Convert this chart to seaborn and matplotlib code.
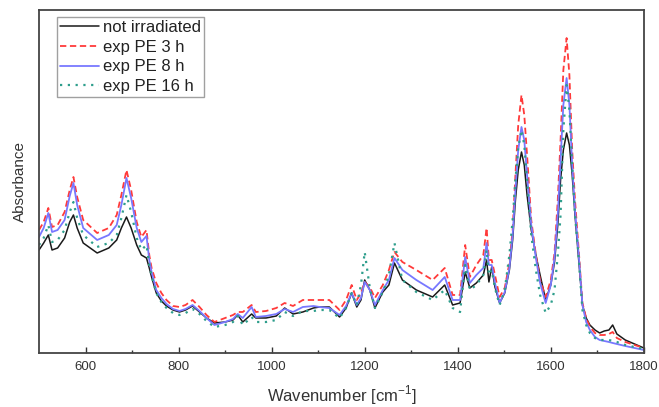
import numpy as np
import pandas as pd
import matplotlib
matplotlib.use("Agg")
import matplotlib.pyplot as plt
import seaborn as sns

wavenumber = [500, 510, 520, 528, 540, 555, 566, 574, 582, 595, 625, 650, 667, 677, 688, 698, 710, 720, 731, 737,
              742, 752, 763, 774, 788, 802, 815, 830, 845, 860, 877, 900, 917, 927, 938, 957, 966, 988, 1010, 1028,
              1046, 1067, 1090, 1103, 1124, 1146, 1160, 1172, 1183, 1192, 1200, 1211, 1222, 1239, 1252, 1264, 1281, 1311, 1346, 1372,
              1389, 1405, 1416, 1426, 1440, 1455, 1462, 1467, 1473, 1480, 1490, 1501, 1511, 1518, 1524, 1530, 1537, 1543, 1549, 1558,
              1568, 1577, 1589, 1600, 1608, 1615, 1621, 1627, 1634, 1640, 1646, 1652, 1660, 1668, 1676, 1684, 1695, 1705, 1715, 1725,
              1733, 1742, 1760, 1780, 1800]

not_irradiated = [103, 110, 118, 103, 105, 115, 131, 138, 125, 110, 100, 105, 113, 125, 136, 125, 108, 98, 95, 85,
                  76, 60, 52, 47, 43, 41, 43, 47, 41, 35, 30, 31, 33, 38, 31, 39, 35, 35, 37, 45,
                  39, 41, 45, 46, 46, 36, 45, 60, 46, 53, 73, 63, 45, 61, 68, 90, 73, 63, 56, 68,
                  48, 50, 81, 65, 70, 78, 93, 71, 86, 66, 50, 60, 83, 113, 153, 183, 201, 188, 158, 123,
                  98, 78, 53, 68, 91, 128, 173, 203, 220, 208, 178, 138, 93, 48, 35, 28, 23, 20, 22, 23,
                  28, 19, 13, 9, 5]

exp_pe_3h = [123, 131, 145, 126, 128, 141, 163, 176, 156, 133, 120, 125, 138, 158, 183, 163, 131, 116, 123, 98,
             85, 70, 60, 53, 47, 46, 48, 53, 46, 38, 31, 35, 38, 41, 41, 48, 41, 42, 45, 50,
             47, 53, 53, 53, 53, 43, 53, 68, 53, 60, 71, 66, 55, 68, 83, 101, 91, 83, 73, 85,
             58, 58, 108, 76, 88, 98, 125, 93, 93, 78, 56, 65, 90, 123, 178, 228, 258, 238, 198, 133,
             98, 73, 56, 73, 100, 153, 213, 283, 315, 278, 203, 153, 103, 50, 35, 26, 20, 18, 18, 19,
             21, 15, 11, 8, 5]

exp_pe_8h = [116, 125, 140, 121, 123, 133, 157, 170, 148, 125, 113, 118, 128, 148, 175, 155, 125, 111, 117, 93,
             81, 63, 55, 49, 44, 42, 44, 48, 42, 35, 28, 31, 34, 39, 35, 46, 36, 37, 39, 44,
             41, 46, 47, 46, 45, 38, 47, 60, 48, 55, 71, 63, 48, 63, 73, 95, 83, 73, 63, 76,
             53, 53, 96, 70, 78, 85, 110, 88, 88, 70, 50, 61, 85, 118, 163, 203, 226, 213, 178, 128,
             95, 70, 50, 68, 95, 138, 193, 248, 275, 248, 188, 143, 98, 48, 31, 23, 16, 13, 12, 11,
             10, 9, 7, 5, 3]

exp_pe_16h = [108, 115, 128, 111, 113, 123, 141, 151, 135, 118, 106, 110, 118, 135, 158, 141, 115, 103, 108, 88,
              77, 60, 51, 45, 40, 38, 40, 44, 39, 32, 26, 28, 31, 37, 28, 36, 31, 31, 33, 41,
              37, 42, 42, 43, 43, 35, 45, 60, 48, 68, 101, 65, 45, 61, 78, 110, 73, 61, 53, 63,
              45, 41, 88, 63, 68, 78, 103, 78, 83, 65, 48, 63, 98, 133, 173, 205, 223, 208, 173, 118,
              83, 58, 40, 48, 63, 98, 138, 223, 268, 243, 188, 138, 95, 43, 28, 20, 15, 13, 13, 13,
              12, 11, 8, 6, 4]

series_labels = ["not irradiated", "exp PE 3 h", "exp PE 8 h", "exp PE 16 h"]
x_ticks = [600, 800, 1000, 1200, 1400, 1600, 1800]

sns.set_theme(style="white")
plt.rcParams["font.family"] = ["Liberation Sans", "DejaVu Sans"]

fig = plt.figure(figsize=(6.59, 4.07), dpi=100)
ax = fig.add_axes([0.0592, 0.1327, 0.9178, 0.8427])

styles = [
    dict(color="#1a1a1a", linestyle="-", linewidth=1.1),
    dict(color="#ff3a3a", linestyle=(0, (3.5, 2)), linewidth=1.3),
    dict(color="#7878ff", linestyle="-", linewidth=1.3),
    dict(color="#2e9e8c", linestyle=(0, (1, 2.5)), linewidth=1.6),
]
for vals, lab, st in zip([not_irradiated, exp_pe_3h, exp_pe_8h, exp_pe_16h], series_labels, styles):
    df = pd.DataFrame({"wn": wavenumber, "abs": vals})
    sns.lineplot(data=df, x="wn", y="abs", ax=ax, label=lab, **st)

ax.set_xlim(500, 1800)
ax.set_ylim(0, 343)
ax.set_xticks(x_ticks)
ax.set_xticks([700, 900, 1100, 1300, 1500, 1700], minor=True)
ax.set_yticks([])
ax.tick_params(axis="x", which="major", direction="in", length=4, width=1, colors="#333333",
               labelsize=9.5, labelcolor="#333333", bottom=True, pad=6)
ax.tick_params(axis="x", which="minor", direction="in", length=2.5, width=1, colors="#333333", bottom=True)
for sp in ax.spines.values():
    sp.set_color("#444444")
    sp.set_linewidth(1.3)
ax.set_xlabel("Wavenumber [cm$^{\\mathregular{-1}}$]", fontsize=12, color="#333333", labelpad=7)
ax.set_ylabel("Absorbance", fontsize=11, color="#333333", labelpad=9)

leg = ax.legend(loc="upper left", bbox_to_anchor=(0.024, 0.99), fontsize=12, frameon=True,
                fancybox=False, edgecolor="#888888", handlelength=2.3, handletextpad=0.25,
                borderpad=0.2, labelspacing=0.28, borderaxespad=0.2)
leg.get_frame().set_linewidth(1.0)
for t in leg.get_texts():
    t.set_color("#222222")

fig.savefig("out.png", dpi=100)
